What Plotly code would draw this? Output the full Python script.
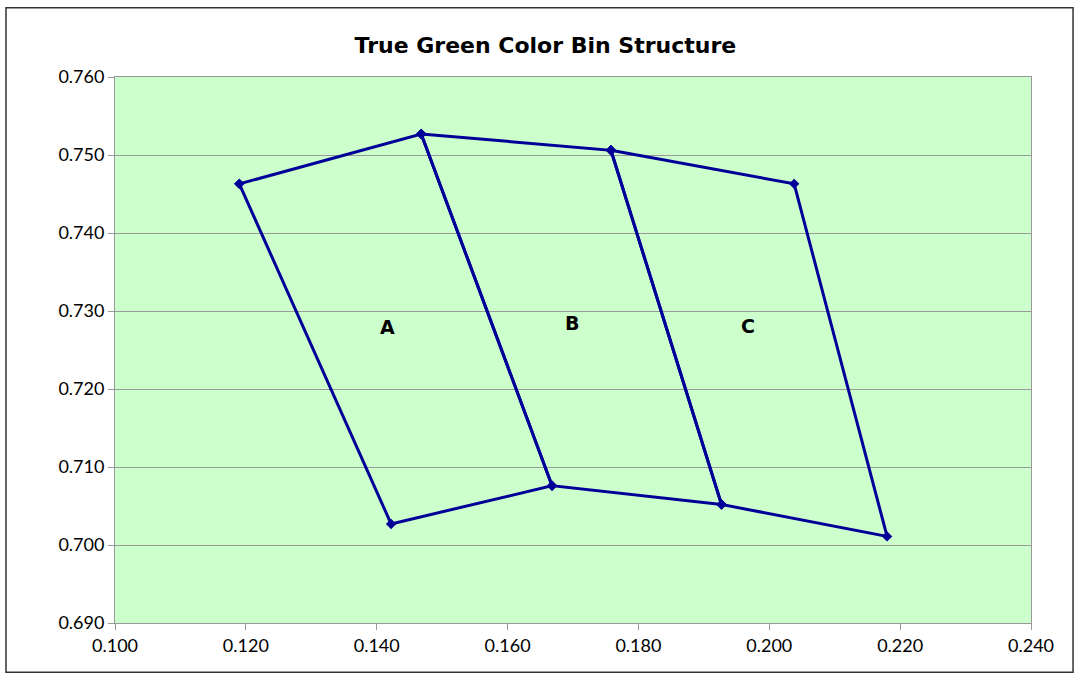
import plotly.graph_objects as go

bin_names = ["A", "B", "C"]
bin_x = [
    [0.1190, 0.1468, 0.1668, 0.1422, 0.1190],
    [0.1468, 0.1758, 0.1927, 0.1668, 0.1468],
    [0.1758, 0.2038, 0.2180, 0.1927, 0.1758],
]
bin_y = [
    [0.7463, 0.7527, 0.7076, 0.7027, 0.7463],
    [0.7527, 0.7506, 0.7052, 0.7076, 0.7527],
    [0.7506, 0.7463, 0.7011, 0.7052, 0.7506],
]
label_x = [0.1417, 0.1698, 0.1968]
label_y = [0.7280, 0.7285, 0.7281]

x_ticks = [0.100, 0.120, 0.140, 0.160, 0.180, 0.200, 0.220, 0.240]
y_ticks = [0.690, 0.700, 0.710, 0.720, 0.730, 0.740, 0.750, 0.760]

fig = go.Figure()
for name, xs, ys in zip(bin_names, bin_x, bin_y):
    fig.add_trace(go.Scatter(
        x=xs, y=ys, mode="lines+markers", name=name,
        line=dict(color="#000099", width=3),
        marker=dict(symbol="diamond", size=8, color="#000099"),
        showlegend=False, hoverinfo="x+y",
    ))

for name, lx, ly in zip(bin_names, label_x, label_y):
    fig.add_annotation(x=lx, y=ly, text=name, showarrow=False,
                       font=dict(family="DejaVu Sans", size=19, color="black", weight="bold"))

fig.update_layout(
    width=1080, height=680,
    margin=dict(l=115, r=49, t=77, b=57),
    paper_bgcolor="white",
    plot_bgcolor="#CCFFCC",
    title=dict(text="<b>True Green Color Bin Structure</b>", x=0.505, xanchor="center",
               y=0.934, yanchor="middle",
               font=dict(family="DejaVu Sans", size=22, color="black")),
    xaxis=dict(range=[0.100, 0.240], tickvals=x_ticks, ticktext=[f"{v:.3f}" for v in x_ticks],
               showgrid=False, zeroline=False, showline=True, linecolor="#999999", linewidth=1,
               mirror=True, ticks="outside", ticklen=6, tickcolor="#999999",
               tickfont=dict(family="Lato", size=18, color="black")),
    yaxis=dict(range=[0.690, 0.760], tickvals=y_ticks, ticktext=[f"{v:.3f}" for v in y_ticks],
               showgrid=True, gridcolor="#999999", gridwidth=1, zeroline=False,
               showline=True, linecolor="#999999", linewidth=1, mirror=True,
               ticks="outside", ticklen=6, tickcolor="#999999",
               tickfont=dict(family="Lato", size=18, color="black")),
    shapes=[dict(type="rect", xref="paper", yref="paper",
                 x0=-0.119, x1=1.0459, y0=-0.0904, y1=1.1269,
                 line=dict(color="#333333", width=1.5), fillcolor="rgba(0,0,0,0)", layer="below")],
)

fig.write_html("out.html", config={"displayModeBar": False},
               post_script="document.body.style.margin='0';document.body.style.overflow='hidden';")
